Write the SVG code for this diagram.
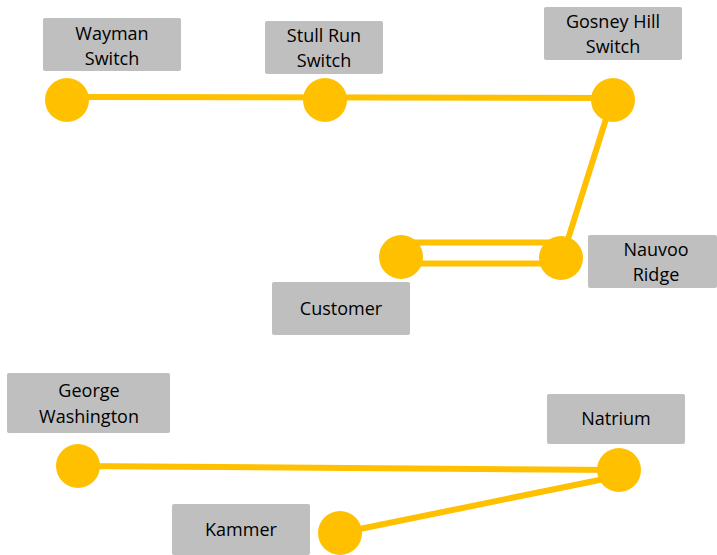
<svg xmlns="http://www.w3.org/2000/svg" width="717" height="555" viewBox="0 0 717 555">
<style>
.box{fill:#bfbfbf;}
.lbl{font-family:"Open Sans","Liberation Sans",sans-serif;font-size:18px;fill:#000;text-anchor:middle;}
.dot{fill:#ffc000;}
.ln{stroke:#ffc000;stroke-width:6;fill:none;}
</style>
<rect width="717" height="555" fill="#fff"/>
<g id="connectors">
<line class="ln" x1="67" y1="97" x2="612" y2="98"/>
<line class="ln" x1="612" y1="100" x2="562" y2="258"/>
<line class="ln" x1="401" y1="242.5" x2="561" y2="242.5"/>
<line class="ln" x1="401" y1="263.5" x2="561" y2="263.5"/>
<line class="ln" x1="77" y1="466" x2="619" y2="470"/>
<line class="ln" x1="340" y1="533" x2="619" y2="476"/>
</g>
<g id="wayman"><rect class="box" x="43" y="18" width="138" height="53" rx="2"/><text class="lbl" x="112" y="40">Wayman</text><text class="lbl" x="112" y="65">Switch</text><circle class="dot" cx="67" cy="100" r="22"/></g>
<g id="stullrun"><rect class="box" x="265" y="21" width="118" height="53" rx="2"/><text class="lbl" x="324" y="42">Stull Run</text><text class="lbl" x="324" y="67">Switch</text><circle class="dot" cx="325" cy="100" r="22"/></g>
<g id="gosney"><rect class="box" x="544" y="7" width="138" height="53" rx="2"/><text class="lbl" x="613" y="28">Gosney Hill</text><text class="lbl" x="613" y="53">Switch</text><circle class="dot" cx="613" cy="100" r="22"/></g>
<g id="nauvoo"><rect class="box" x="588" y="235" width="129" height="53" rx="2"/><text class="lbl" x="656" y="256">Nauvoo</text><text class="lbl" x="656" y="281">Ridge</text><circle class="dot" cx="561" cy="258" r="22"/></g>
<g id="customer"><rect class="box" x="272" y="282" width="138" height="53" rx="2"/><text class="lbl" x="341" y="315">Customer</text><circle class="dot" cx="401" cy="257" r="22"/></g>
<g id="george"><rect class="box" x="7" y="373" width="163" height="60" rx="2"/><text class="lbl" x="89" y="397">George</text><text class="lbl" x="89" y="423">Washington</text><circle class="dot" cx="78" cy="466" r="22"/></g>
<g id="natrium"><rect class="box" x="547" y="394" width="138" height="50" rx="2"/><text class="lbl" x="616" y="425">Natrium</text><circle class="dot" cx="619" cy="470" r="22"/></g>
<g id="kammer"><rect class="box" x="172" y="504" width="138" height="51" rx="2"/><text class="lbl" x="241" y="536">Kammer</text><circle class="dot" cx="340" cy="533" r="22"/></g>
</svg>
